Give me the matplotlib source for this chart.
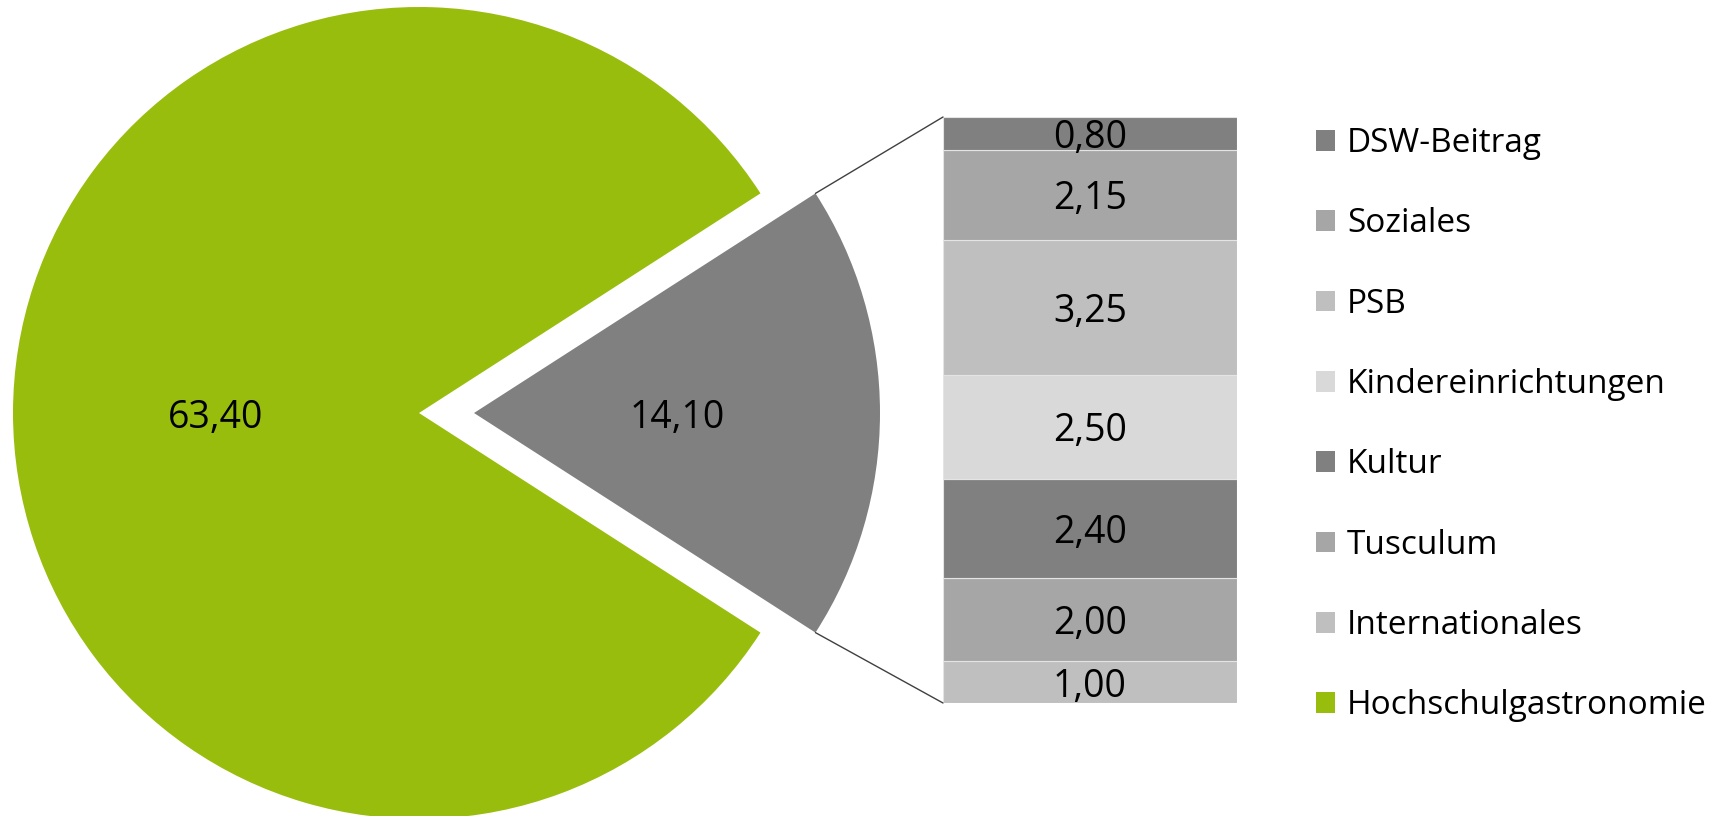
import matplotlib
matplotlib.use("Agg")
import matplotlib.pyplot as plt
from matplotlib.patches import Patch, ConnectionPatch
import numpy as np

plt.rcParams['font.family'] = ['Open Sans', 'DejaVu Sans']

# Data
pie_labels = ["Hochschulgastronomie", "Sonstiges"]
pie_values = [63.40, 14.10]
pie_colors = ["#99bd0d", "#808080"]

bar_labels = ["Internationales", "Tusculum", "Kultur", "Kindereinrichtungen",
              "PSB", "Soziales", "DSW-Beitrag"]
bar_values = [1.00, 2.00, 2.40, 2.50, 3.25, 2.15, 0.80]
bar_colors = ["#bfbfbf", "#a6a6a6", "#808080", "#d9d9d9",
              "#bfbfbf", "#a6a6a6", "#808080"]

W, H = 1729, 816
fig = plt.figure(figsize=(W / 100, H / 100), dpi=100)
ax = fig.add_axes([0, 0, 1, 1])

def fmt(v):
    return f"{v:.2f}".replace('.', ',')

total = sum(pie_values)
grey_angle = pie_values[1] / total * 360
start = grey_angle / 2
radius = 406
center = (419, 403)
explode = [0, 55]
wedges, texts, autotexts = ax.pie(
    pie_values, colors=pie_colors, startangle=start, counterclock=True,
    radius=radius, center=center, explode=explode,
    autopct=lambda p: fmt(p * total / 100), pctdistance=0.5,
    textprops=dict(fontsize=27, color='black'), frame=True)
for t in autotexts:
    t.set_va('center_baseline')
ax.set_xlim(0, W)
ax.set_ylim(0, H)
ax.set_aspect('equal')
ax.axis('off')

# Bar axes
bx0, bx1, by_top, by_bot = 943, 1237, 117, 703
bax = fig.add_axes([bx0 / W, (H - by_bot) / H, (bx1 - bx0) / W, (by_bot - by_top) / H])
bottom = 0
for lab, v, c in zip(bar_labels, bar_values, bar_colors):
    bax.bar(0, v, width=1, bottom=bottom, color=c, edgecolor='#e4e4e4', linewidth=0.8)
    bax.text(0, bottom + v / 2, fmt(v), ha='center', va='center_baseline',
             fontsize=27, color='black')
    bottom += v
bax.set_xlim(-0.5, 0.5)
bax.set_ylim(0, sum(bar_values))
bax.axis('off')

# Connector lines from grey wedge edge to bar corners
gw = wedges[1]
cx, cy = gw.center
r = gw.r
for ang, ycorner in [(gw.theta2, sum(bar_values)), (gw.theta1, 0)]:
    xp = cx + r * np.cos(np.deg2rad(ang))
    yp = cy + r * np.sin(np.deg2rad(ang))
    con = ConnectionPatch(xyA=(-0.5, ycorner), coordsA=bax.transData,
                          xyB=(xp, yp), coordsB=ax.transData,
                          color='#404040', linewidth=1)
    fig.add_artist(con)

# Legend
handles = [Patch(facecolor=c, edgecolor='none') for c in bar_colors[::-1]] + \
          [Patch(facecolor=pie_colors[0], edgecolor='none')]
labels = bar_labels[::-1] + [pie_labels[0]]
leg = fig.legend(handles, labels, loc='upper left', bbox_to_anchor=(1316 / W, 1 - 127 / H),
                 frameon=False, fontsize=24, handlelength=0.58, handleheight=0.58,
                 handletextpad=0.35, labelspacing=1.42, borderpad=0, borderaxespad=0)

fig.savefig("out.png", dpi=100)
